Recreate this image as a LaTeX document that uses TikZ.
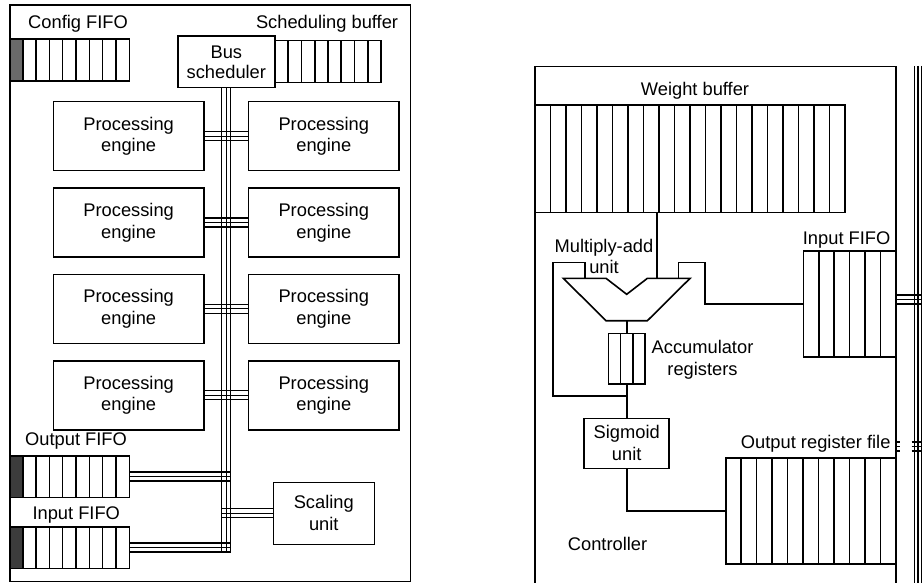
\documentclass[tikz,border=0pt]{standalone}
\usepackage{fontspec}
\setmainfont{Liberation Sans}
\usetikzlibrary{fit,calc}
\definecolor{cfggray}{HTML}{6A6A6A}
\definecolor{fifogray}{HTML}{3C3C3C}
\newcommand\cellrow[6]{%
  \node[fit={(#2,#3) (#4,#5)}, inner sep=0pt, outer sep=0pt, draw, boxline] (#1) {};
  \pgfmathsetmacro\cwid{(#4-#2)/#6}
  \pgfmathtruncatemacro\lastk{#6-1}
  \foreach \k in {1,...,\lastk} \draw[boxline] ({#2+\k*\cwid},#3) -- ({#2+\k*\cwid},#5);
}
\newcommand\darkfifo[4]{%
  \fill[#4] (10,#2) rectangle (22.7,#3);
  \node[fit={(10,#2) (129.3,#3)}, inner sep=0pt, outer sep=0pt, draw, boxline] (#1) {};
  \foreach \k in {0,...,7} \draw[boxline] ({22.7+\k*13.325},#2) -- ({22.7+\k*13.325},#3);
}
\begin{document}
\begin{tikzpicture}[x=1pt,y=-1pt,
  every node/.style={font=\fontsize{18.3}{21.8}\selectfont, text=black},
  boxline/.style={line width=1.6pt},
  busline/.style={line width=1.1pt},
  unitbox/.style={draw, boxline, align=center, inner sep=0pt, outer sep=0pt},
  pebox/.style={unitbox, minimum width=150.7pt, minimum height=69pt},
  lbl/.style={inner sep=0pt}]
\useasboundingbox (0,0) rectangle (924,583);
\fill[white] (0,0) rectangle (924,583);

% ---------------- left: neural processing unit ----------------
\node[fit={(10,5) (410.5,581.5)}, inner sep=0pt, outer sep=0pt, draw, boxline] (chip) {};
\node[lbl, anchor=base west] (cfgL) at (28,28.3) {Config FIFO};
\node[lbl, anchor=base east] (schL) at (398.3,28.3) {Scheduling buffer};
\darkfifo{cfg}{39.3}{81}{cfggray}
\cellrow{sb}{275}{40.7}{381}{82.7}{8}
\node[unitbox, minimum width=97.3pt, minimum height=51.7pt, font=\fontsize{18.3}{20}\selectfont] (bus) at (226.35,61.85) {Bus\\scheduler};

\foreach \r/\yc in {1/136.2,2/222.5,3/308.8,4/395.2} {
  \node[pebox] (peL\r) at (128.65,\yc) {Processing\\engine};
  \node[pebox] (peR\r) at (323.8,\yc) {Processing\\engine};
}

\node[lbl, anchor=base west] (outL) at (25,445.5) {Output FIFO};
\darkfifo{outF}{455.7}{497.3}{fifogray}
\node[lbl, anchor=base west] (inL) at (32.3,519.3) {Input FIFO};
\darkfifo{inF}{526.7}{568.3}{fifogray}
\node[unitbox, minimum width=101pt, minimum height=62pt] (scal) at (323.8,513.3) {Scaling\\unit};

% bus
\foreach \j/\s in {1/-4.5,2/0,3/4.5} {
  \coordinate (bt\j) at ([xshift=\s pt]bus.south);
}
\coordinate (busbot) at ([yshift=-4.5pt]inF.east);
\foreach \j in {1,2,3} \draw[busline] (bt\j) -- (bt\j |- busbot);
\foreach \r in {1,...,4} \foreach \s in {-4.5,0,4.5}
  \draw[busline] ([yshift=\s pt]peL\r.east) -- ([yshift=\s pt]peR\r.west);
\foreach \s in {-4.5,0,4.5} {
  \coordinate (ofp) at ([yshift=\s pt]outF.east); \draw[busline] (ofp) -- (ofp -| bt3);
  \coordinate (ifp) at ([yshift=\s pt]inF.east);  \draw[busline] (ifp) -- (ifp -| bt3);
  \coordinate (scp) at ([yshift=\s pt]scal.west); \draw[busline] (scp) -- (scp -| bt1);
}

% ---------------- right: processing engine detail ----------------
\coordinate (ctlTL) at (535,66.7);
\coordinate (ctlTR) at (896,66.7);
\draw[boxline] (ctlTL |- 0,583) -- (ctlTL) -- (ctlTR) -- (ctlTR |- 0,583);
\node[lbl, anchor=base] (wbL) at (695,95.5) {Weight buffer};
\cellrow{wb}{535}{105}{845}{212.3}{20}
\node[lbl, anchor=base west] (inRL) at (802.7,244) {Input FIFO};
\cellrow{inR}{803.3}{250.7}{896}{356.7}{6}
\node[lbl, anchor=base east] (outRL) at (890.7,448.3) {Output register file};
\cellrow{outR}{725.7}{457.7}{896}{564}{11}
\cellrow{acc}{608.3}{333.3}{645.1}{384}{3}
\node[unitbox, minimum width=85pt, minimum height=50pt] (sig) at (626.7,443.3) {Sigmoid\\unit};
\node[lbl, align=center] (macL) at (604,256.5) {Multiply-add\\unit};
\node[lbl, align=center] (accL) at (702.5,359.5) {Accumulator\\registers};
\node[lbl, anchor=base west] (ctlL) at (567.7,550) {Controller};

% multiply-add unit
\coordinate (m1) at (563.3,278.3);
\coordinate (m2) at (606,278.3);
\coordinate (m3) at (626.7,294.3);
\coordinate (m4) at (647.4,278.3);
\coordinate (m5) at (690.1,278.3);
\coordinate (m6) at (647.4,320.7);
\coordinate (m7) at (606,320.7);
\draw[boxline, line join=miter] (m1) -- (m2) -- (m3) -- (m4) -- (m5) -- (m6) -- (m7) -- cycle;
\coordinate (macIn1) at (585,278.3);
\coordinate (macIn2) at (656.7,278.3);
\coordinate (macIn3) at (678.3,278.3);
\coordinate (macOut) at (626.7,320.7);
\coordinate (fb) at (626.7,395.7);

\draw[boxline] (wb.south -| macIn2) -- (macIn2);
\draw[boxline] (macOut) -- (acc.north);
\draw[boxline] (acc.south) -- (sig.north);
\draw[boxline] (macIn1) |- (552.7,262.3) |- (fb);
\draw[boxline] (macIn3) |- (705,262.3) |- (inR.west);
\draw[boxline] (sig.south) |- (outR.west);

% right bus
\foreach \j/\x in {1/914.5,2/918,3/921.5} {
  \coordinate (rb\j) at (\x,66);
  \draw[busline] (rb\j) -- (rb\j |- 0,583);
}
\foreach \yy in {295,299.5,304} \draw[busline] (inR.east |- 0,\yy) -- (rb3 |- 0,\yy);
\foreach \yy in {442,446.5,451} {
  \draw[busline] (ctlTR |- 0,\yy) -- ++(3.5,0);
  \draw[busline] (rb1 |- 0,\yy) ++(-3,0) -- (rb3 |- 0,\yy);
}
\end{tikzpicture}
\end{document}
